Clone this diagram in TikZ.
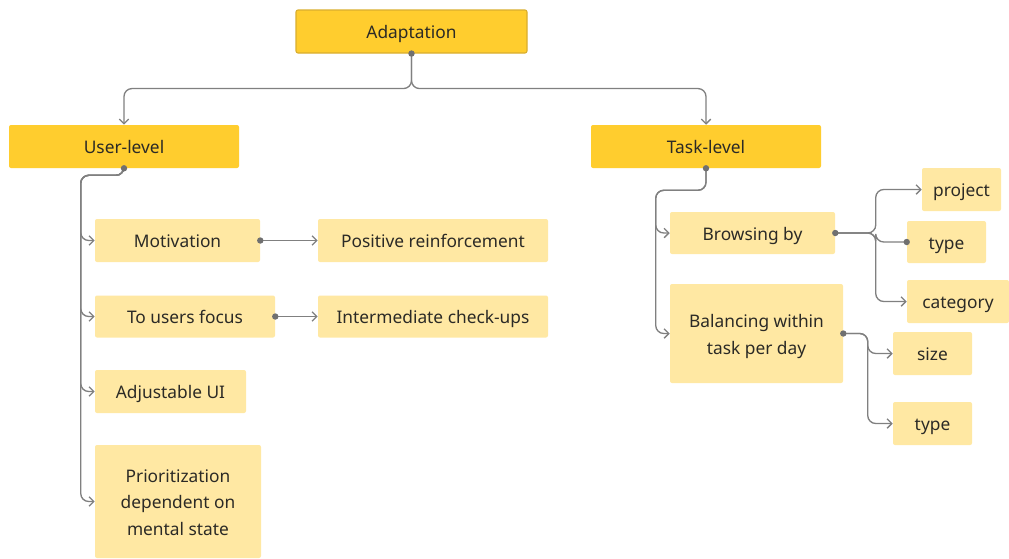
\documentclass[tikz,border=0pt]{standalone}
\usepackage{fontspec}
\setmainfont{Noto Sans}
\usetikzlibrary{arrows.meta}
\definecolor{darky}{HTML}{FFCD2E}
\definecolor{lighty}{HTML}{FFE8A3}
\definecolor{bordy}{HTML}{D9AE2E}
\definecolor{linec}{HTML}{808080}
\definecolor{dotc}{HTML}{707070}
\definecolor{txtc}{HTML}{2B2A26}
\newcommand\tx[1]{\raisebox{-1.6pt}[\height][\depth]{\begin{tabular}{@{}c@{}}#1\end{tabular}}}
\tikzset{
  base/.style={rounded corners=1.5pt, align=center, text=txtc, font=\fontsize{13}{20}\selectfont, inner sep=0pt},
  topbox/.style={base, fill=darky, draw=bordy, line width=0.8pt},
  mainbox/.style={base, fill=darky},
  leafbox/.style={base, fill=lighty},
  conn/.style={draw=linec, line width=1pt, rounded corners=6pt},
  arr/.style={conn, -{Straight Barb[length=3.5pt,width=7pt]}},
  dotm/.style={fill=dotc}
}
\begin{document}
\begin{tikzpicture}[x=0.75pt,y=-0.75pt]
\useasboundingbox (0,0) rectangle (1009,558);
\fill[white] (0,0) rectangle (1009,558);
% nodes
\node[topbox, minimum width=173.25pt, minimum height=32.25pt] (ada) at (411.5,31.5) {\tx{Adaptation}};
\node[mainbox, minimum width=172.5pt, minimum height=32.25pt] (user) at (124,146.5) {\tx{User-level}};
\node[mainbox, minimum width=172.5pt, minimum height=32.25pt] (task) at (706,146.5) {\tx{Task-level}};
\node[leafbox, minimum width=123.75pt, minimum height=32.25pt] (mot) at (177.5,240.5) {\tx{Motivation}};
\node[leafbox, minimum width=172.5pt, minimum height=32.25pt] (pos) at (433,240.5) {\tx{Positive reinforcement}};
\node[leafbox, minimum width=135pt, minimum height=31.5pt] (focus) at (185,316.5) {\tx{To users focus}};
\node[leafbox, minimum width=172.5pt, minimum height=31.5pt] (inter) at (433,316.5) {\tx{Intermediate check-ups}};
\node[leafbox, minimum width=113.25pt, minimum height=32.25pt] (adj) at (170.5,391.5) {\tx{Adjustable UI}};
\node[leafbox, minimum width=124.5pt, minimum height=84.75pt] (prio) at (178,501.5) {\tx{Prioritization\\dependent on\\mental state}};
\node[leafbox, minimum width=123.75pt, minimum height=31.5pt] (brow) at (752.5,233) {\tx{Browsing by}};
\node[leafbox, minimum width=129.75pt, minimum height=74.25pt] (bal) at (756.5,333.5) {\tx{Balancing within\\task per day}};
\node[leafbox, minimum width=59.25pt, minimum height=32.25pt] (proj) at (961.5,189.5) {\tx{project}};
\node[leafbox, minimum width=59.25pt, minimum height=31.5pt] (type1) at (946.5,242) {\tx{type}};
\node[leafbox, minimum width=76.5pt, minimum height=32.25pt] (cat) at (958,301.5) {\tx{category}};
\node[leafbox, minimum width=59.25pt, minimum height=32.25pt] (size) at (932.5,353.5) {\tx{size}};
\node[leafbox, minimum width=59.25pt, minimum height=32.25pt] (type2) at (932.5,423.5) {\tx{type}};
% connectors
\draw[arr] (ada.south) -- ++(0,35) -| (user.north);
\draw[arr] (ada.south) -- ++(0,35) -| (task.north);
\foreach \c in {mot,focus,adj,prio}{
  \draw[arr] (user.south) -- ++(0,7) -| ([xshift=-10.5pt]\c.west) -- (\c.west);
}
\draw[arr] (mot.east) -- (pos.west);
\draw[arr] (focus.east) -- (inter.west);
\draw[arr] (task.south) -- ++(0,22) -| ([xshift=-10.5pt]brow.west) -- (brow.west);
\draw[arr] (task.south) -- ++(0,22) -| ([xshift=-10.5pt]bal.west) -- (bal.west);
\draw[arr] (brow.east) -| ([xshift=-34.5pt]proj.west) -- (proj.west);
\draw[conn] (brow.east) -| ([xshift=-23.25pt]type1.west) -- (type1.west);
\draw[arr] (brow.east) -| ([xshift=-23.25pt]cat.west) -- (cat.west);
\draw[arr] (bal.east) -| ([xshift=-18.75pt]size.west) -- (size.west);
\draw[arr] (bal.east) -| ([xshift=-18.75pt]type2.west) -- (type2.west);
% dots
\foreach \p in {ada.south,user.south,task.south,mot.east,focus.east,brow.east,bal.east,type1.west}{
  \fill[dotm] (\p) circle (2.4pt);
}
\end{tikzpicture}
\end{document}
